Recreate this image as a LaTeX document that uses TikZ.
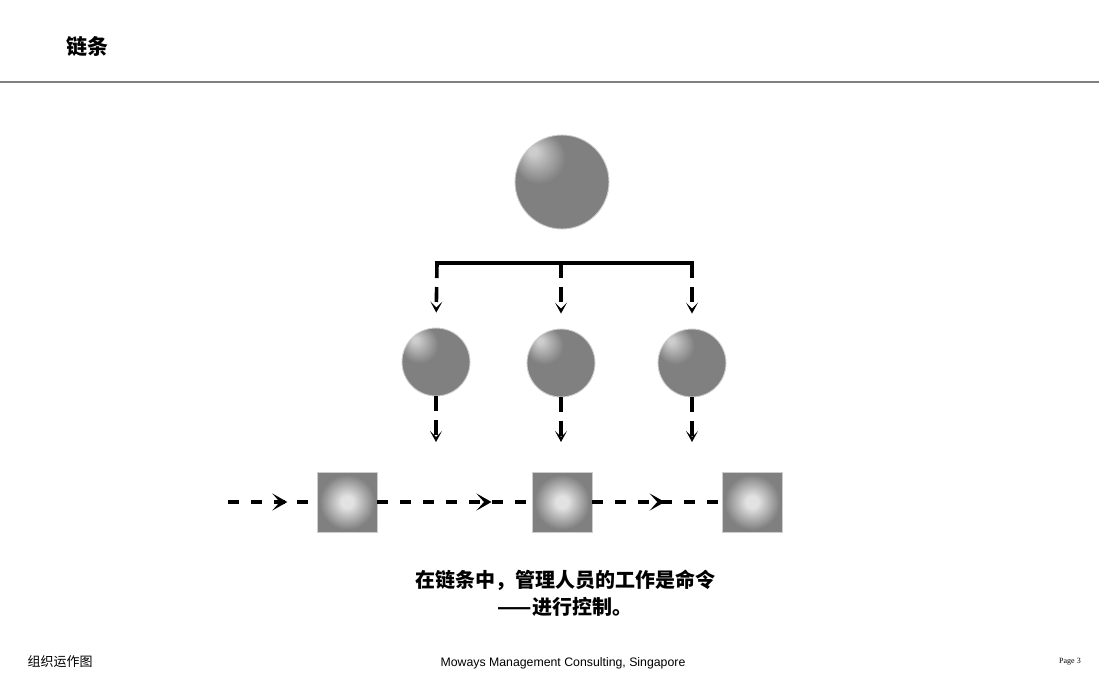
\documentclass[tikz,border=0pt]{standalone}
\usepackage{fontspec}
\setmainfont{Liberation Sans}
\newfontfamily\cjk{Noto Sans CJK SC}
\newfontfamily\serifpage{Liberation Serif}
\usetikzlibrary{arrows.meta,decorations.markings}
\definecolor{ballgray}{RGB}{128,128,128}
\definecolor{hlc}{RGB}{205,205,205}
\definecolor{sqlight}{RGB}{226,226,226}
\definecolor{rimc}{RGB}{205,205,205}
\definecolor{rulec}{RGB}{128,128,128}
\pgfdeclareradialshading{ballshade}{\pgfpoint{-16bp}{17bp}}{color(0bp)=(hlc); color(2bp)=(hlc); color(14bp)=(ballgray); color(60bp)=(ballgray)}
\pgfdeclareradialshading{sqshade}{\pgfpoint{0bp}{0bp}}{color(0bp)=(sqlight); color(5bp)=(sqlight); color(23bp)=(ballgray); color(40bp)=(ballgray)}
\tikzset{
  ball/.style={circle, inner sep=0pt, shading=ballshade, draw=rimc, line width=0.9pt},
  sqbox/.style={rectangle, inner sep=0pt, minimum size=60pt, shading=sqshade, draw=rimc, line width=0.9pt},
  barline/.style={line width=3.2pt, line cap=butt},
  varrow/.style={line width=3.6pt, dash pattern=on 15pt off 9pt, -{Stealth[length=11pt,width=12pt,inset=6pt]}},
  harrow/.style={line width=3.6pt, dash pattern=on 11pt off 12pt,
     postaction={decorate}, decoration={markings, mark=at position #1 with {\arrow{Stealth[length=15pt,width=17pt,inset=7.5pt]}}}},
  cjktitle/.style={font=\cjk\bfseries\fontsize{21pt}{24pt}\selectfont, inner sep=0pt},
  cjkbody/.style={font=\cjk\bfseries\fontsize{20pt}{26.5pt}\selectfont, inner sep=0pt, align=center},
}
\begin{document}
\begin{tikzpicture}[x=1pt,y=-1pt]
\useasboundingbox (0,0) rectangle (1099,675);
% header
\node[cjktitle] (title) at (87,47) {链条};
\coordinate (rl) at (0,82);
\coordinate (rr) at (1099,82);
\draw[rulec, line width=1.2pt] (rl) -- (rr);
% top circle
\node[ball, minimum size=94pt] (top) at (562,182) {};
% bar
\coordinate (b1) at (437,263);
\coordinate (b2) at (561,263);
\coordinate (b3) at (692,263);
\draw[barline] ([xshift=-1.8pt]b1) -- ([xshift=1.8pt]b3);
% middle circles
\node[ball, minimum size=68pt] (m1) at (436,362) {};
\node[ball, minimum size=68pt] (m2) at (561,363) {};
\node[ball, minimum size=68pt] (m3) at (692,363) {};
\draw[varrow, shorten >=15pt] (b1) -- (m1.north);
\draw[varrow, shorten >=15pt] (b2) -- (m2.north);
\draw[varrow, shorten >=15pt] (b3) -- (m3.north);
% lower arrow ends
\coordinate (e1) at (436,442);
\coordinate (e2) at (561,442);
\coordinate (e3) at (692,442);
\draw[varrow] (m1.south) -- (e1);
\draw[varrow] (m2.south) -- (e2);
\draw[varrow] (m3.south) -- (e3);
% squares
\node[sqbox] (s1) at (347,502) {};
\node[sqbox] (s2) at (562,502) {};
\node[sqbox] (s3) at (752,502) {};
\coordinate (s0) at (228,502);
\draw[harrow=0.67] (s0) -- (s1.west);
\draw[harrow=0.74] (s1.east) -- (s2.west);
\draw[harrow=0.56] (s2.east) -- (s3.west);
% caption
\node[cjkbody] (cap) at (565,593) {在链条中，管理人员的工作是命令\\——进行控制。};
% footer
\node[font=\cjk\fontsize{13pt}{15pt}\selectfont, inner sep=0pt] (f1) at (60,662) {组织运作图};
\node[font=\fontsize{12.3pt}{14pt}\selectfont, inner sep=0pt] (f2) at (563,663) {Moways Management Consulting, Singapore};
\node[font=\serifpage\fontsize{8pt}{10pt}\selectfont, inner sep=0pt] (f3) at (1070,662) {Page 3};
\end{tikzpicture}
\end{document}
